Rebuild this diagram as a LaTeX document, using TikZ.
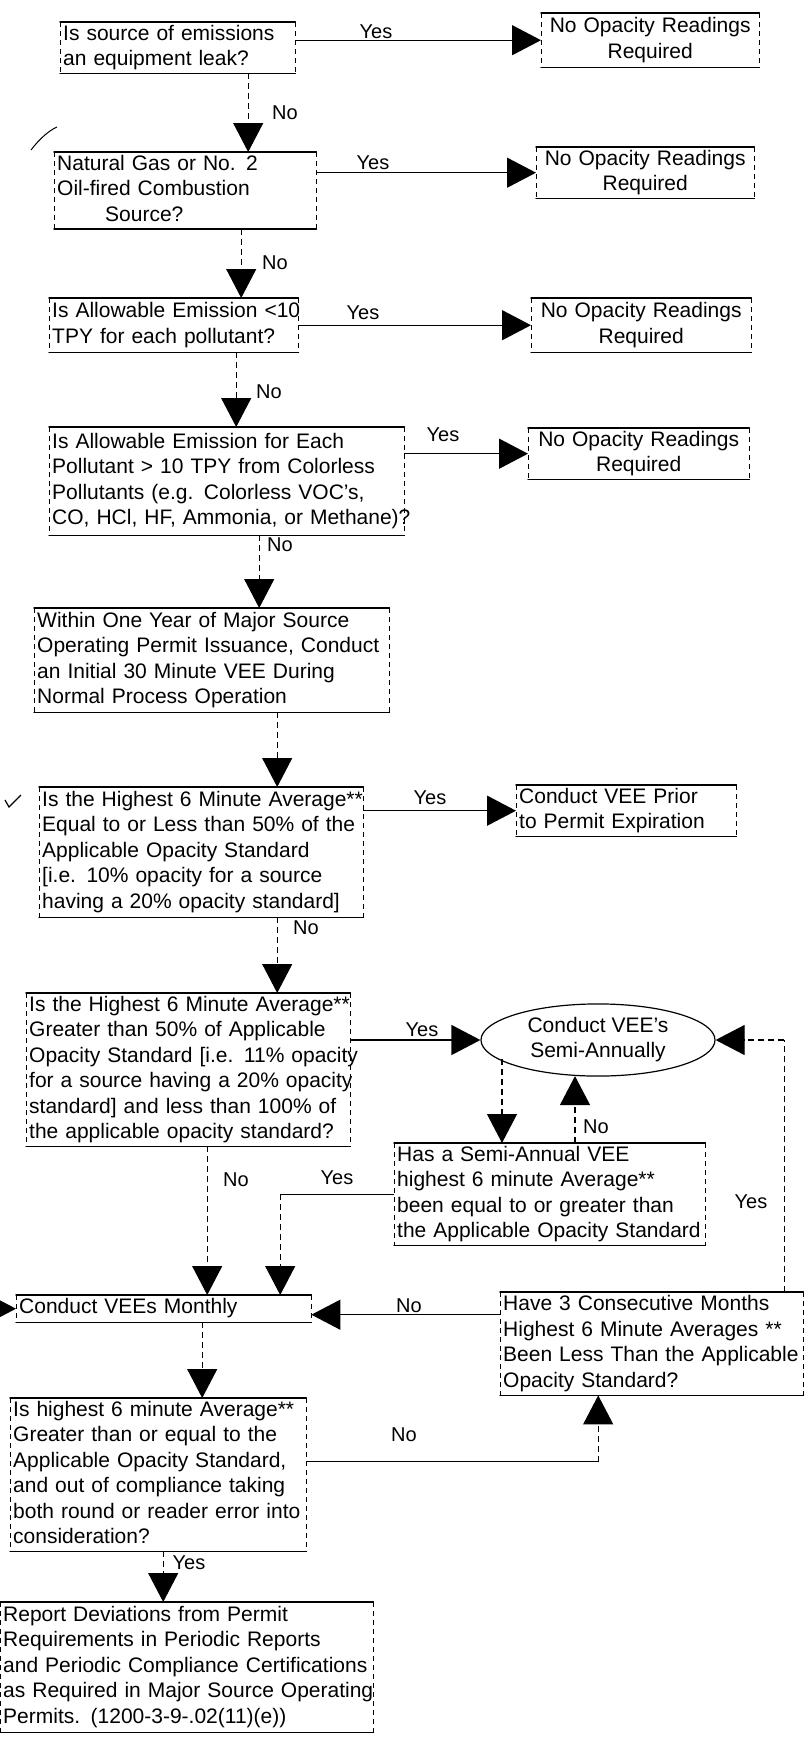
\documentclass[tikz,border=0pt]{standalone}
\usepackage{fontspec}
\setmainfont{Liberation Sans}
\usetikzlibrary{arrows.meta,shapes.geometric,calc}
\newcommand\fs{\fontsize{21}{25.5}\selectfont}
\newcommand\lbfont{\fontsize{20}{24}\selectfont}
\newcommand\tl[1]{\begin{tabular}{@{\hspace{3pt}}l@{}}#1\end{tabular}}
\newcommand\tc[1]{\begin{tabular}{@{}c@{}}#1\end{tabular}}
\tikzset{
  bx/.style 2 args={rectangle, inner xsep=0pt, inner ysep=0pt, minimum width=#1pt, minimum height=#2pt, text width=#1pt, align=left, anchor=north west, font=\fs},
  nb/.style 2 args={rectangle, inner xsep=0pt, inner ysep=0pt, minimum width=#1pt, minimum height=#2pt, text width=#1pt, align=center, anchor=north west, font=\fs},
  edge/.style={line width=1.5pt, line cap=round},
  side/.style={line width=1pt, dash pattern=on 5pt off 4pt},
  hl/.style={line width=1.4pt},
  vl/.style={line width=1.1pt, dash pattern=on 6pt off 4pt},
  arr/.style={-{Triangle[length=29pt,width=30pt]}},
  lbl/.style={font=\lbfont, inner sep=0pt},
}
\begin{document}
\begin{tikzpicture}[x=1pt,y=-1pt]
\useasboundingbox (0,0) rectangle (808,1740);
% boxes
\node[bx={235}{48}] (B1) at (60,22) {\tl{Is source of emissions\\an equipment leak?}};
\node[nb={218}{54}] (N1) at (541,13) {\tc{No Opacity Readings\\Required}};
\node[bx={262}{73}] (B2) at (54,152) {\tl{Natural Gas or No. 2\\Oil-fired Combustion\\\hspace*{48pt}Source?}};
\node[nb={218}{50}] (N2) at (536,147) {\tc{No Opacity Readings\\Required}};
\node[bx={249}{54}] (B3) at (49,298) {\tl{Is Allowable Emission <10\\TPY for each pollutant?}};
\node[nb={220}{54}] (N3) at (531,298) {\tc{No Opacity Readings\\Required}};
\node[bx={355}{108}] (B4) at (49,427) {\tl{Is Allowable Emission for Each\\Pollutant > 10 TPY from Colorless\\Pollutants (e.g. Colorless VOC's,\\CO, HCl, HF, Ammonia, or Methane)?}};
\node[nb={221}{47}] (N4) at (528,428) {\tc{No Opacity Readings\\Required}};
\node[bx={355}{104}] (B5) at (34,608) {\tl{Within One Year of Major Source\\Operating Permit Issuance, Conduct\\an Initial 30 Minute VEE During\\Normal Process Operation}};
\node[bx={324}{130}] (B6) at (39,787) {\tl{Is the Highest 6 Minute Average**\\Equal to or Less than 50\% of the\\Applicable Opacity Standard\\{[}i.e. 10\% opacity for a source\\having a 20\% opacity standard{]}}};
\node[bx={220}{50}] (B7) at (516,785) {\tl{Conduct VEE Prior\\to Permit Expiration}};
\node[bx={324}{149}] (B8) at (26,993) {\tl{Is the Highest 6 Minute Average**\\Greater than 50\% of Applicable\\Opacity Standard {[}i.e. 11\% opacity\\for a source having a 20\% opacity\\standard{]} and less than 100\% of\\the applicable opacity standard?}};
\node[ellipse, draw, line width=1.2pt, inner sep=0pt, minimum width=234pt, minimum height=66pt, font=\fs] (E) at (598,1040) {\tc{Conduct VEE's\\Semi-Annually}};
\node[bx={311}{97}] (B9) at (394,1143) {\tl{Has a Semi-Annual VEE\\highest 6 minute Average**\\been equal to or greater than\\the Applicable Opacity Standard}};
\node[bx={295}{27}] (B11) at (16,1295) {\tl{Conduct VEEs Monthly}};
\node[bx={303}{103}] (B10) at (500,1292) {\tl{Have 3 Consecutive Months\\Highest 6 Minute Averages **\\Been Less Than the Applicable\\Opacity Standard?}};
\node[bx={296}{150}] (B12) at (10,1398) {\tl{Is highest 6 minute Average**\\Greater than or equal to the\\Applicable Opacity Standard,\\and out of compliance taking\\both round or reader error into\\consideration?}};
\node[bx={373}{130}] (B13) at (0,1602) {\tl{Report Deviations from Permit\\Requirements in Periodic Reports\\and Periodic Compliance Certifications\\as Required in Major Source Operating\\Permits. (1200-3-9-.02(11)(e))}};
% frames
\foreach \n in {B1,N1,B2,N2,B3,N3,B4,N4,B5,B6,B7,B8,B9,B11,B10,B12,B13} {
  \draw[edge] (\n.north west) -- (\n.north east);
  \draw[edge] (\n.south west) -- (\n.south east);
  \draw[side] (\n.north west) -- (\n.south west);
  \draw[side] (\n.north east) -- (\n.south east);
}
% helper coordinates
\coordinate (c1) at ($(B1.south)+(70.5,0)$);
\coordinate (c2) at ($(B2.south)+(56,0)$);
\coordinate (c3) at ($(B3.south)+(62.5,0)$);
\coordinate (c4) at ($(B4.south)+(32.5,0)$);
\coordinate (c5) at ($(B5.south)+(65.5,0)$);
\coordinate (c6) at ($(B6.south)+(76,0)$);
\coordinate (c8) at ($(B8.south)+(19,0)$);
\coordinate (cy) at ($(B11.north)+(116.5,0)$);
\coordinate (c11) at ($(B11.south)+(38.5,0)$);
\coordinate (c12) at ($(B12.south)+(5,0)$);
\coordinate (e1) at ($(E.center)+(-96,19)$);
\coordinate (e2) at ($(E.south)+(-23,-0.6)$);
\coordinate (c10) at ($(B10.south)+(-53.5,0)$);
\coordinate (r10) at ($(B10.north east)+(-19,0)$);
\coordinate (m12) at ([yshift=13pt]B12.east);
\coordinate (m11) at ([yshift=-6pt]B11.east);
\coordinate (lin) at ($(B11.west)+(-40,0)$);
% horizontal yes arrows
\draw[hl,arr] (B1.east |- N1.west) -- (N1.west);
\draw[hl,arr] (B2.east |- N2.west) -- (N2.west);
\draw[hl,arr] (B3.east |- N3.west) -- (N3.west);
\draw[hl,arr] (B4.east |- N4.west) -- (N4.west);
\draw[hl,arr] (B6.east |- B7.west) -- (B7.west);
\draw[hl,arr] (B8.east |- E.west) -- (E.west);
\draw[hl,arr] (B10.west |- m11) -- (m11);
% vertical arrows
\draw[vl,arr] (c1) -- (c1 |- B2.north);
\draw[vl,arr] (c2) -- (c2 |- B3.north);
\draw[vl,arr] (c3) -- (c3 |- B4.north);
\draw[vl,arr] (c4) -- (c4 |- B5.north);
\draw[vl,arr] (c5) -- (c5 |- B6.north);
\draw[vl,arr] (c6) -- (c6 |- B8.north);
\draw[vl,arr] (e1) -- (e1 |- B9.north);
\draw[vl,arr] (e2 |- B9.north) -- (e2);
\draw[vl,arr] (c8) -- (c8 |- B11.north);
\draw[hl] (B9.west) -- (B9.west -| cy);
\draw[vl,arr] (B9.west -| cy) -- (cy);
\draw[vl,arr] (c11) -- (c11 |- B12.north);
\draw[vl,arr] (c12) -- (c12 |- B13.north);
\draw[hl] (m12) -- (m12 -| c10);
\draw[vl,arr] (m12 -| c10) -- (c10);
\draw[vl] (r10) -- (r10 |- E.east);
\draw[vl,arr] (r10 |- E.east) -- (E.east);
\draw[hl,arr] (lin) -- (B11.west);
% labels
\node[lbl] (y1) at (376,32) {Yes};
\node[lbl] (n1) at (285,113) {No};
\node[lbl] (y2) at (373,163) {Yes};
\node[lbl] (n2) at (275,263) {No};
\node[lbl] (y3) at (363,313) {Yes};
\node[lbl] (n3) at (269,392) {No};
\node[lbl] (y4) at (443,435) {Yes};
\node[lbl] (n4) at (280,545) {No};
\node[lbl] (y6) at (430,798) {Yes};
\node[lbl] (n6) at (306,928) {No};
\node[lbl] (y8) at (422,1030) {Yes};
\node[lbl] (n9) at (596,1127) {No};
\node[lbl] (n8) at (236,1180) {No};
\node[lbl] (y9) at (337,1178) {Yes};
\node[lbl] (y10) at (751,1202) {Yes};
\node[lbl, fill=white, inner xsep=4pt] (n10) at (409,1306) {No};
\node[lbl] (n12) at (404,1435) {No};
\node[lbl] (y12) at (189,1563) {Yes};
% check marks
\draw[line width=1pt] (31,150) .. controls (40,138) and (50,130) .. (57,127);
\draw[line width=1.2pt] (5,800) -- (9,807) -- (21,795);
\end{tikzpicture}
\end{document}
